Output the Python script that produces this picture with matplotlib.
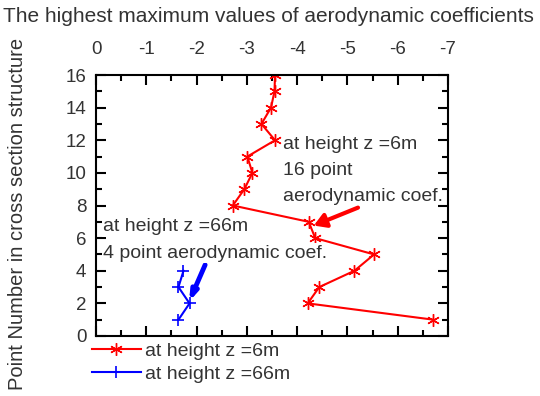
import matplotlib
matplotlib.use('Agg')
import matplotlib.pyplot as plt
from matplotlib.ticker import MultipleLocator

plt.rcParams['font.family'] = ['Liberation Sans', 'DejaVu Sans']
plt.rcParams['axes.unicode_minus'] = False

# Maximum aerodynamic coefficients per point in the cross section
points_6m = [1, 2, 3, 4, 5, 6, 7, 8, 9, 10, 11, 12, 13, 14, 15, 16]
coef_6m = [-6.71, -4.21, -4.44, -5.14, -5.53, -4.36, -4.23, -2.72,
           -2.95, -3.11, -3.01, -3.56, -3.29, -3.48, -3.55, -3.56]

points_66m = [1, 2, 3, 4]
coef_66m = [-1.64, -1.86, -1.64, -1.74]

x_ticks = [0, -1, -2, -3, -4, -5, -6, -7]
y_ticks = [0, 2, 4, 6, 8, 10, 12, 14, 16]

TEXT = '#333333'
FS = 14

fig = plt.figure(figsize=(5.4, 3.96), dpi=100)
ax = fig.add_axes([96 / 540, 1 - 336 / 396, 352 / 540, 261 / 396])

ln1, = ax.plot(coef_6m, points_6m, color='red', lw=1.5,
               marker=(6, 2, 0), ms=9, mew=1.0, label='at height z =6m')
ln2, = ax.plot(coef_66m, points_66m, color='blue', lw=1.5,
               marker='+', ms=8, mew=1.2, label='at height z =66m')

ax.set_xlim(0, -7)
ax.set_ylim(0, 16)
ax.set_xticks(x_ticks)
ax.set_yticks(y_ticks)
ax.xaxis.set_minor_locator(MultipleLocator(0.5))
ax.yaxis.set_minor_locator(MultipleLocator(1))
ax.tick_params(which='both', direction='in', top=True, bottom=True,
               left=True, right=True, labeltop=True, labelbottom=False,
               width=1.5, colors='black', labelcolor=TEXT, labelsize=13.5)
ax.tick_params(which='major', length=7)
ax.tick_params(which='minor', length=4.5)
ax.tick_params(axis='x', pad=12)
ax.tick_params(axis='y', pad=7)
for sp in ax.spines.values():
    sp.set_linewidth(1.5)

# Annotations with arrows
box = dict(facecolor='white', edgecolor='none', pad=1)
for i, line in enumerate(['at height z =6m', '16 point', 'aerodynamic coef.']):
    ax.text(-3.71, 11.72 - i * 1.57, line, fontsize=FS, color=TEXT,
            ha='left', va='center', zorder=4)
for i, line in enumerate(['at height z =66m', '4 point aerodynamic coef.']):
    ax.text(-0.14, 6.7 - i * 1.62, line, fontsize=FS, color=TEXT,
            ha='left', va='center', bbox=box, zorder=4)

ax.annotate('', xy=(-4.33, 6.77), xytext=(-5.21, 7.87),
            arrowprops=dict(arrowstyle='-|>,head_length=0.5,head_width=0.3',
                            color='red', lw=3, mutation_scale=14,
                            shrinkA=0, shrinkB=0))
ax.annotate('', xy=(-1.85, 2.1), xytext=(-2.17, 4.36),
            arrowprops=dict(arrowstyle='-|>,head_length=0.45,head_width=0.15',
                            color='blue', lw=3.5, mutation_scale=12,
                            shrinkA=0, shrinkB=0))

fig.text(3 / 540, 1 - 17 / 396, 'The highest maximum values of aerodynamic coefficients',
         fontsize=15, color=TEXT, ha='left', va='center')
fig.text(18 / 540, 1 - 214 / 396, 'Point Number in cross section structure',
         fontsize=14.5, color=TEXT, ha='center', va='center', rotation=90)

fig.legend(handles=[ln1, ln2], loc='upper left',
           bbox_to_anchor=(92 / 540, 1 - 342 / 396), frameon=False,
           fontsize=FS, handlelength=2.5, handletextpad=0.25,
           labelspacing=0.3, borderpad=0, borderaxespad=0,
           labelcolor=TEXT)

fig.savefig('out.png', dpi=100)
